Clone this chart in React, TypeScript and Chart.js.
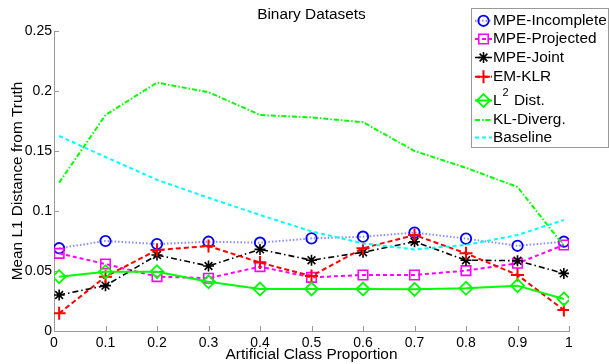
import React, { useEffect, useRef } from 'react';
import { Chart, registerables } from 'chart.js';

Chart.register(...registerables);

// ---- data ----
const proportions = [0.01, 0.1, 0.2, 0.3, 0.4, 0.5, 0.6, 0.7, 0.8, 0.9, 0.99];
const mpeIncomplete = [0.069, 0.075, 0.0725, 0.0744, 0.0736, 0.0772, 0.0786, 0.082, 0.077, 0.071, 0.0744];
const mpeProjected = [0.0647, 0.0558, 0.0453, 0.044, 0.0536, 0.0447, 0.0467, 0.0467, 0.0503, 0.0564, 0.0717];
const mpeJoint = [0.03, 0.0378, 0.0633, 0.0542, 0.068, 0.059, 0.0656, 0.0744, 0.059, 0.0586, 0.048];
const emKlr = [0.0147, 0.0453, 0.0675, 0.0708, 0.057, 0.0458, 0.069, 0.08, 0.0647, 0.0467, 0.0175];
const l2Dist = [0.0453, 0.0494, 0.0494, 0.041, 0.035, 0.035, 0.035, 0.0347, 0.0356, 0.0378, 0.0267];
const klDiverg = [0.1236, 0.18, 0.207, 0.199, 0.18, 0.178, 0.174, 0.15, 0.136, 0.12, 0.071];
const baseline = [0.1625, 0.145, 0.126, 0.111, 0.0967, 0.083, 0.073, 0.068, 0.0717, 0.08, 0.0925];

const seriesNames = ['MPE-Incomplete', 'MPE-Projected', 'MPE-Joint', 'EM-KLR', 'L² Dist.', 'KL-Diverg.', 'Baseline'];
const seriesValues = [mpeIncomplete, mpeProjected, mpeJoint, emKlr, l2Dist, klDiverg, baseline];

const xTicks = [0, 0.1, 0.2, 0.3, 0.4, 0.5, 0.6, 0.7, 0.8, 0.9, 1];
const yTicks = [0, 0.05, 0.1, 0.15, 0.2, 0.25];

// ---- styles ----
const FONT = '"Liberation Sans", Arial, Helvetica, sans-serif';
type Style = {
  line: string; marker: string; width: number; dash: number[];
  point: string | false; radius: number; pw: number;
};
const styles: Style[] = [
  { line: '#8c8cff', marker: '#0000ff', width: 2, dash: [1.5, 2], point: 'circle', radius: 5.2, pw: 1.8 },
  { line: '#ff00ff', marker: '#ff00ff', width: 2, dash: [4, 3], point: 'rect', radius: 6.7, pw: 1.6 },
  { line: '#000000', marker: '#000000', width: 1.6, dash: [6, 3, 1.5, 3], point: 'star', radius: 5.5, pw: 1.6 },
  { line: '#ff0000', marker: '#ff0000', width: 2, dash: [5, 3], point: 'cross', radius: 6.5, pw: 2 },
  { line: '#00ff00', marker: '#00ff00', width: 2, dash: [], point: 'rectRot', radius: 6.5, pw: 1.8 },
  { line: '#00ff00', marker: '#00ff00', width: 2, dash: [5, 2, 1.5, 2], point: false, radius: 0, pw: 0 },
  { line: '#00ffff', marker: '#00ffff', width: 2, dash: [4, 3], point: false, radius: 0, pw: 0 },
];
const legendRowsY = [20.8, 39, 57.5, 76.7, 100.5, 120, 137.5];

function drawMarker(ctx: CanvasRenderingContext2D, style: string, x: number, y: number, r: number, color: string, lw: number) {
  ctx.save();
  ctx.setLineDash([]);
  ctx.strokeStyle = color;
  ctx.lineWidth = lw;
  ctx.beginPath();
  if (style === 'circle') {
    ctx.arc(x, y, r, 0, Math.PI * 2);
  } else if (style === 'rect') {
    const s = r * Math.SQRT1_2;
    ctx.rect(x - s, y - s, 2 * s, 2 * s);
  } else if (style === 'rectRot') {
    ctx.moveTo(x - r, y); ctx.lineTo(x, y - r); ctx.lineTo(x + r, y); ctx.lineTo(x, y + r); ctx.closePath();
  } else if (style === 'cross' || style === 'star') {
    ctx.moveTo(x, y - r); ctx.lineTo(x, y + r);
    ctx.moveTo(x - r, y); ctx.lineTo(x + r, y);
    if (style === 'star') {
      const d = r * Math.SQRT1_2;
      ctx.moveTo(x - d, y - d); ctx.lineTo(x + d, y + d);
      ctx.moveTo(x - d, y + d); ctx.lineTo(x + d, y - d);
    }
  }
  ctx.stroke();
  ctx.restore();
}

const inwardTicks = {
  id: 'inwardTicks',
  beforeDatasetsDraw(chart: any) {
    const { ctx, chartArea } = chart;
    const xs = chart.scales.x;
    const ys = chart.scales.y;
    ctx.save();
    ctx.strokeStyle = '#999';
    ctx.lineWidth = 1;
    ctx.beginPath();
    xTicks.forEach((v) => {
      const px = Math.round(xs.getPixelForValue(v)) + 0.5;
      ctx.moveTo(px, chartArea.bottom);
      ctx.lineTo(px, chartArea.bottom - 5);
    });
    yTicks.forEach((v) => {
      const py = Math.round(ys.getPixelForValue(v)) + 0.5;
      ctx.moveTo(chartArea.left, py);
      ctx.lineTo(chartArea.left + 5, py);
    });
    ctx.stroke();
    ctx.restore();
  },
};

const boxLegend = {
  id: 'boxLegend',
  afterDraw(chart: any) {
    const ctx: CanvasRenderingContext2D = chart.ctx;
    ctx.save();
    ctx.fillStyle = '#fff';
    ctx.fillRect(471.5, 8.5, 137, 139);
    ctx.strokeStyle = '#999';
    ctx.lineWidth = 1;
    ctx.strokeRect(471.5, 8.5, 137, 139);
    seriesNames.forEach((name, i) => {
      const st = styles[i];
      const y = legendRowsY[i];
      ctx.save();
      ctx.strokeStyle = st.line;
      ctx.lineWidth = st.width;
      ctx.setLineDash(st.dash);
      ctx.beginPath();
      ctx.moveTo(475, y);
      ctx.lineTo(492, y);
      ctx.stroke();
      ctx.restore();
      if (st.point) drawMarker(ctx, st.point as string, 483.5, y, st.radius, st.marker, st.pw);
      ctx.fillStyle = '#000';
      ctx.textBaseline = 'middle';
      ctx.textAlign = 'left';
      ctx.font = `15.4px ${FONT}`;
      if (name.startsWith('L²')) {
        ctx.fillText('L', 493, y);
        const wL = ctx.measureText('L').width;
        ctx.font = `11px ${FONT}`;
        ctx.fillText('2', 493 + wL + 1, y - 8);
        const w2 = ctx.measureText('2').width;
        ctx.font = `15.4px ${FONT}`;
        ctx.fillText(' Dist.', 493 + wL + 1 + w2 + 1, y);
      } else {
        ctx.fillText(name, 493, y);
      }
    });
    ctx.restore();
  },
};

function fmt(v: number) {
  return String(Number(v.toFixed(3)));
}

export default function App() {
  const ref = useRef<HTMLCanvasElement | null>(null);
  useEffect(() => {
    if (!ref.current) return;
    const datasets = seriesValues.map((vals, i) => {
      const st = styles[i];
      return {
        label: seriesNames[i],
        data: proportions.map((p, j) => ({ x: p, y: vals[j] })),
        borderColor: st.line,
        borderWidth: st.width,
        borderDash: st.dash,
        backgroundColor: 'transparent',
        fill: false,
        tension: 0,
        pointStyle: st.point,
        pointRadius: st.point ? st.radius : 0,
        pointBorderColor: st.marker,
        pointBackgroundColor: 'transparent',
        pointBorderWidth: st.pw,
        order: seriesNames.length - i,
      };
    });
    const chart = new Chart(ref.current, {
      type: 'line',
      data: { datasets },
      plugins: [inwardTicks, boxLegend],
      options: {
        animation: false,
        responsive: false,
        maintainAspectRatio: false,
        devicePixelRatio: 1,
        layout: { padding: { top: 0, right: 40, bottom: 0, left: 0 } },
        plugins: {
          legend: { display: false },
          tooltip: { enabled: false },
          title: {
            display: true,
            text: 'Binary Datasets',
            fullSize: false,
            color: '#000',
            font: { family: FONT, size: 15.4, weight: 'normal', lineHeight: 1.2 },
            padding: { top: 5.3, bottom: 7.22 },
          },
        },
        scales: {
          x: {
            type: 'linear',
            min: 0,
            max: 1,
            afterFit: (s: any) => { s.height = 33; },
            afterBuildTicks: (s: any) => { s.ticks = xTicks.map((v) => ({ value: v })); },
            grid: { display: false, drawTicks: false },
            border: { display: true, color: '#999', width: 1 },
            ticks: {
              color: '#000',
              padding: 3.5,
              maxRotation: 0,
              autoSkip: false,
              font: { family: FONT, size: 14 },
              callback: (v: any) => fmt(Number(v)),
            },
            title: {
              display: true,
              text: 'Artificial Class Proportion',
              color: '#000',
              font: { family: FONT, size: 15.4, lineHeight: 1.2 },
              padding: { top: 0, bottom: 0 },
            },
          },
          y: {
            type: 'linear',
            min: 0,
            max: 0.25,
            afterFit: (s: any) => { s.width = 54; },
            afterBuildTicks: (s: any) => { s.ticks = yTicks.map((v) => ({ value: v })); },
            grid: { display: false, drawTicks: false },
            border: { display: true, color: '#999', width: 1 },
            ticks: {
              color: '#000',
              padding: 2,
              autoSkip: false,
              font: { family: FONT, size: 14 },
              callback: (v: any) => fmt(Number(v)),
            },
            title: {
              display: true,
              text: 'Mean L1 Distance from Truth',
              color: '#000',
              font: { family: FONT, size: 15.4, lineHeight: 1.2 },
              padding: { top: 9, bottom: 0 },
            },
          },
        },
      } as any,
    });
    return () => chart.destroy();
  }, []);
  return (
    <div style={{ position: 'fixed', left: 0, top: 0, width: 609, height: 364, background: '#fff' }}>
      <canvas ref={ref} width={609} height={364} style={{ width: 609, height: 364, display: 'block' }} />
    </div>
  );
}
